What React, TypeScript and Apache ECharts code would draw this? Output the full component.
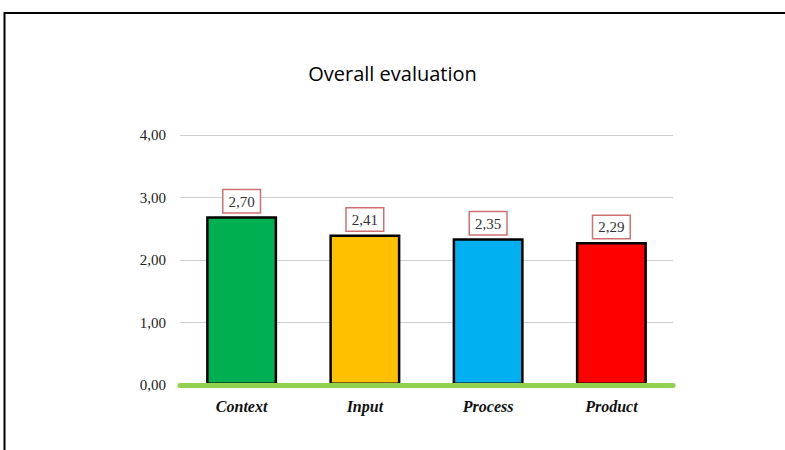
import React, { useEffect, useRef } from "react";
import * as echarts from "echarts";

const categories = ["Context", "Input", "Process", "Product"];
const values = [2.7, 2.41, 2.35, 2.29];
const barColors = ["#00b050", "#ffc000", "#00b0f0", "#ff0000"];
const yTicks = [0, 1, 2, 3, 4];

export default function App() {
  const ref = useRef<HTMLDivElement>(null);
  useEffect(() => {
    const chart = echarts.init(ref.current!, null, { renderer: "svg" });
    chart.setOption({
      animation: false,
      backgroundColor: "#ffffff",
      title: {
        text: "Overall evaluation",
        left: "center",
        top: 58,
        textStyle: { fontFamily: "Open Sans", fontSize: 20, fontWeight: "normal", color: "#000" },
      },
      graphic: [
        {
          type: "rect",
          shape: { x: 4.5, y: 13, width: 800, height: 500 },
          style: { fill: "none", stroke: "#000", lineWidth: 2 },
          silent: true,
        },
      ],
      grid: { left: 180, right: 112, top: 135, bottom: 65 },
      xAxis: {
        type: "category",
        data: categories,
        axisTick: { show: false },
        axisLine: { show: true, lineStyle: { color: "#92d050", width: 5 } },
        axisLabel: {
          fontFamily: "Liberation Serif",
          fontStyle: "italic",
          fontWeight: "bold",
          fontSize: 16,
          color: "#111",
          margin: 13,
        },
        z: 10,
      },
      yAxis: {
        type: "value",
        min: 0,
        max: yTicks[yTicks.length - 1],
        interval: 1,
        axisLine: { show: false },
        axisTick: { show: false },
        splitLine: { lineStyle: { color: "#d0d0d0", width: 1 } },
        axisLabel: {
          fontFamily: "Liberation Serif",
          fontSize: 15,
          color: "#222",
          margin: 14,
          formatter: (v: number) => v.toFixed(2).replace(".", ","),
        },
      },
      series: [
        {
          type: "bar",
          data: values.map((v, i) => ({ value: v, itemStyle: { color: barColors[i] } })),
          barWidth: 71,
          itemStyle: { borderColor: "#000", borderWidth: 2.5 },
          label: {
            show: true,
            position: "top",
            distance: 4,
            formatter: (p: any) => Number(p.value).toFixed(2).replace(".", ","),
            fontFamily: "Liberation Serif",
            fontSize: 15,
            color: "#333",
            backgroundColor: "#fff",
            borderColor: "#d07070",
            borderWidth: 1.5,
            padding: [4, 5, 3, 5],
          },
        },
      ],
    });
    return () => chart.dispose();
  }, []);
  return (
    <div
      ref={ref}
      style={{ position: "fixed", left: 0, top: 0, width: 785, height: 450 }}
    />
  );
}
